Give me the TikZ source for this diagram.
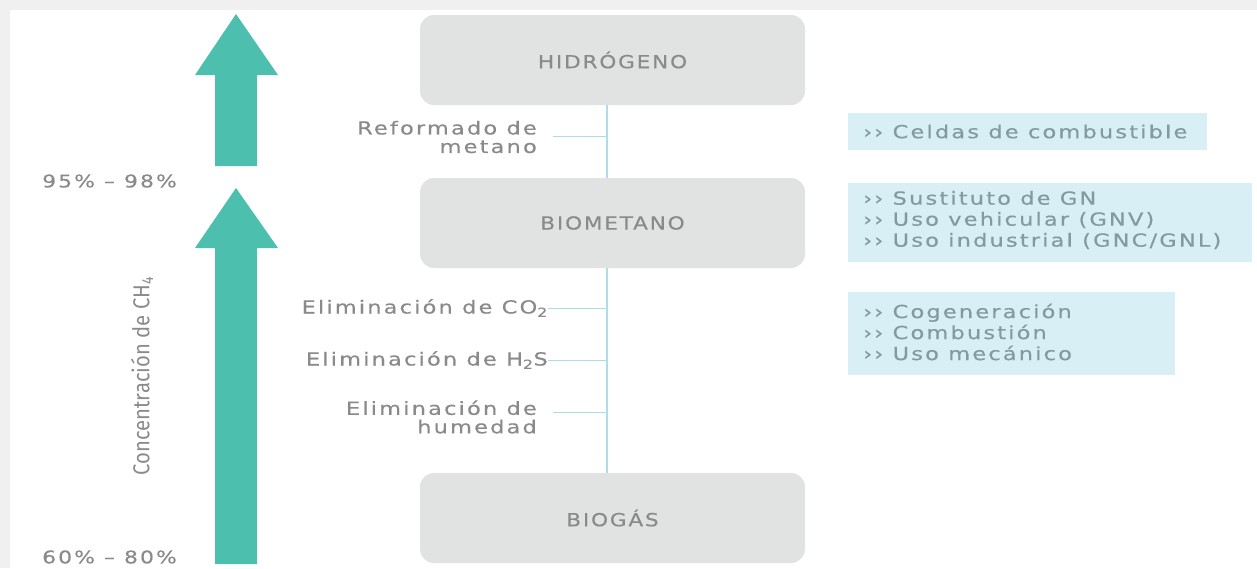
\documentclass[tikz,border=0pt]{standalone}
\usepackage{fontspec}
\setmainfont{DejaVu Sans}[LetterSpace=12, FakeStretch=1.25, FakeBold=0.4]
\newfontfamily\capsfont{DejaVu Sans}[LetterSpace=10, FakeStretch=1.2, FakeBold=0.4]
\newfontfamily\condfont{Fira Sans}
\definecolor{teal}{HTML}{4DBFAE}
\definecolor{boxgray}{HTML}{E1E2E2}
\definecolor{txtgray}{HTML}{8A8A8A}
\definecolor{lineblue}{HTML}{B0DCE8}
\definecolor{useblue}{HTML}{D9EFF6}
\definecolor{usetxt}{HTML}{829AA0}
\definecolor{frame}{HTML}{F0F0F0}
\tikzset{
  stage/.style={fill=boxgray, rounded corners=14pt, minimum width=385pt, minimum height=90pt, font=\capsfont\fontsize{18}{18}\selectfont, text=txtgray, inner sep=0pt},
  proc/.style={font=\fontsize{18}{18.5}\selectfont, text=txtgray, align=right, inner sep=0pt},
  usebox/.style={fill=useblue, anchor=north west, inner sep=0pt},
  usetext/.style={font=\fontsize{18}{21}\selectfont, text=usetxt, align=left, anchor=west, inner sep=0pt},
  pct/.style={font=\fontsize{17.5}{18}\selectfont, text=txtgray, anchor=west, inner sep=0pt},
  link/.style={draw=lineblue, line width=1.3pt},
  bigarrow/.style={fill=teal, draw=none}
}
\begin{document}
\begin{tikzpicture}[x=1pt,y=-1pt]
\useasboundingbox (0,0) rectangle (1257,568);
\fill[frame] (0,0) rectangle (1257,10);
\fill[frame] (0,0) rectangle (10,568);
% arrows
\fill[bigarrow] (236,14) -- (278,75) -- (257,75) -- (257,166) -- (215,166) -- (215,75) -- (195,75) -- cycle;
\fill[bigarrow] (236,188) -- (278,248) -- (257,248) -- (257,564) -- (215,564) -- (215,248) -- (195,248) -- cycle;
\node[pct] (p1) at (42,181) {95\% – 98\%};
\node[pct] (p2) at (42,557) {60\% – 80\%};
\node[rotate=90, text=txtgray, inner sep=0pt] (conc) at (142,376) {\scalebox{0.88}[1]{\condfont\fontsize{23}{24}\selectfont Concentración de CH\textsubscript{4}}};
% stages
\node[stage] (h2) at (612.5,60) {HIDRÓGENO};
\node[stage] (bm) at (612.5,223) {BIOMETANO};
\node[stage] (bg) at (612.5,518) {BIOGÁS};
\draw[link] (h2.south -| 607,0) -- (bm.north -| 607,0);
\draw[link] (bm.south -| 607,0) -- (bg.north -| 607,0);
% processes
\coordinate (j1) at (607,136);
\coordinate (j2) at (607,308);
\coordinate (j3) at (607,360);
\coordinate (j4) at (607,412);
\node[proc, anchor=east] (r1) at (537,137) {Reformado de\\metano};
\node[proc, anchor=east] (e1) at (548,308) {Eliminación de CO\textsubscript{2}};
\node[proc, anchor=east] (e2) at (548,360) {Eliminación de H\textsubscript{2}S};
\node[proc, anchor=east] (e3) at (537,417) {Eliminación de\\humedad};
\draw[link, line width=0.9pt] (553,136) -- (j1);
\draw[link, line width=0.9pt] (e1.east) -- (j2);
\draw[link, line width=0.9pt] (e2.east) -- (j3);
\draw[link, line width=0.9pt] (553,412) -- (j4);
% uses
\node[usebox, minimum width=359pt, minimum height=37pt] (u1) at (848,113) {};
\node[usebox, minimum width=404pt, minimum height=79pt] (u2) at (848,183) {};
\node[usebox, minimum width=327pt, minimum height=83pt] (u3) at (848,292) {};
\node[usetext] (t1) at (863,131.5) {›› Celdas de combustible};
\node[usetext] (t2) at (863,220) {›› Sustituto de GN\\›› Uso vehicular (GNV)\\›› Uso industrial (GNC/GNL)};
\node[usetext] (t3) at (863,332) {›› Cogeneración\\›› Combustión\\›› Uso mecánico};
\end{tikzpicture}
\end{document}
